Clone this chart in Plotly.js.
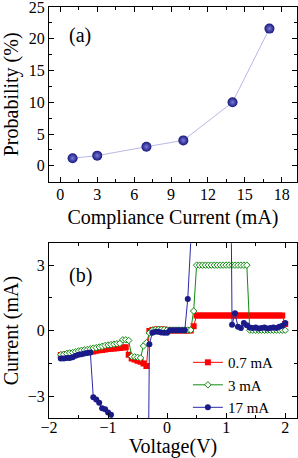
<!DOCTYPE html>
<html>
<head>
<meta charset="utf-8">
<script src="https://cdn.plot.ly/plotly-3.0.1.min.js"></script>
<style>html,body{margin:0;padding:0;background:#fff;}#chart{width:298px;height:458px;}</style>
</head>
<body>
<div id="chart"></div>
<script>
// Panel (a): probability vs compliance current
const complianceCurrent = [1, 3, 7, 10, 14, 17];
const probability = [1.2, 1.6, 3.0, 4.0, 10.0, 21.6];

// Panel (b): I-V curves
const voltage = [-1.80,-1.75,-1.70,-1.65,-1.60,-1.55,-1.50,-1.45,-1.40,-1.35,-1.30,-1.25,-1.20,-1.15,-1.10,-1.05,-1.00,-0.95,-0.90,-0.85,-0.80,-0.75,-0.70,-0.65,-0.60,-0.55,-0.50,-0.45,-0.40,-0.35,-0.30,-0.25,-0.20,-0.15,-0.10,-0.05,0.00,0.05,0.10,0.15,0.20,0.25,0.30,0.35,0.40,0.45,0.50,0.55,0.60,0.65,0.70,0.75,0.80,0.85,0.90,0.95,1.00,1.05,1.10,1.15,1.20,1.25,1.30,1.35,1.40,1.45,1.50,1.55,1.60,1.65,1.70,1.75,1.80,1.85,1.90,1.95,2.00];
const current07mA = [-1.12,-1.10,-1.08,-1.05,-1.06,-1.03,-1.00,-1.02,-1.00,-0.98,-0.97,-0.95,-0.92,-0.90,-0.88,-0.86,-0.84,-0.83,-0.82,-0.80,-0.79,-0.77,-0.76,
  -1.10,-1.28,-1.32,-1.38,-1.42,-1.50,-1.62,
  -0.02,0.03,0.05,0.05,0.05,0.05,0.02,
  0.01,0.01,0.01,0.01,0.01,0.01,0.01,0.01,0.20,
  0.70,0.70,0.70,0.70,0.70,0.70,0.70,0.70,0.70,0.70,0.70,0.70,0.70,0.70,0.70,0.70,0.70,0.70,0.70,0.70,0.70,0.70,0.70,0.70,0.70,0.70,0.70,0.70,0.70,0.70,0.30];
const current3mA = [-1.10,-1.08,-1.05,-1.02,-1.00,-0.97,-0.93,-0.90,-0.88,-0.86,-0.83,-0.80,-0.78,-0.75,-0.72,-0.68,-0.66,-0.64,-0.62,-0.60,
  -0.58,-0.42,-0.42,-0.45,-1.18,-1.20,-1.22,-1.25,-0.70,-0.55,-0.10,
  0.02,0.05,0.05,0.05,0.05,0.03,
  0.03,0.03,0.03,0.03,0.03,0.03,0.03,0.03,0.90,
  3.00,3.00,3.00,3.00,3.00,3.00,3.00,3.00,3.00,3.00,3.00,3.00,3.00,3.00,3.00,3.00,3.00,3.00,
  0.02,0.02,0.02,0.02,0.02,0.02,0.02,0.02,0.02,0.02,0.02,0.02,0.02];
const current17mA = [-1.28,-1.28,-1.25,-1.25,-1.22,-1.15,-1.10,-1.08,-1.05,-1.02,-1.00,
  -3.05,-3.15,-3.30,-3.55,-3.60,-3.75,-3.85,-4.30,-4.60,-5.20,-6.00,-7.10,-8.50,-10.2,-12.0,-13.8,-15.5,-16.6,-17.0,
  -0.62,-0.10,-0.05,-0.05,-0.08,-0.10,-0.10,
  0.02,0.02,0.02,0.02,0.02,0.02,1.45,4.60,
  17,17,17,17,17,17,17,17,17,17,17,17,17,
  0.27,0.80,0.18,0.12,0.35,0.25,0.15,0.12,0.15,0.10,0.12,0.14,0.10,0.12,0.15,0.12,0.18,0.22,0.35];
const seriesNames = ['0.7 mA', '3 mA', '17 mA'];

const FONT = '"Liberation Serif", "Times New Roman", Times, serif';

const traces = [
  {x: complianceCurrent, y: probability, xaxis: 'x', yaxis: 'y', mode: 'lines+markers', showlegend: false,
   line: {color: '#b8b8e8', width: 1},
   marker: {size: 10, color: '#18187e', gradient: {type: 'radial', color: '#7a7ad8'}, line: {width: 0}}},
  {x: voltage, y: current07mA, xaxis: 'x2', yaxis: 'y2', mode: 'lines+markers', name: seriesNames[0],
   line: {color: '#ff0000', width: 1}, marker: {symbol: 'square', size: 6, color: '#ff0000', line: {width: 0}}},
  {x: voltage, y: current3mA, xaxis: 'x2', yaxis: 'y2', mode: 'lines+markers', name: seriesNames[1],
   line: {color: '#108a10', width: 1}, marker: {symbol: 'diamond', size: 5, color: '#ffffff', line: {width: 1, color: '#108a10'}}},
  {x: voltage, y: current17mA, xaxis: 'x2', yaxis: 'y2', mode: 'lines+markers', name: seriesNames[2],
   line: {color: '#2a2aa8', width: 1}, marker: {symbol: 'circle', size: 6, color: '#1a1a88', line: {width: 0}}}
];

function axisBase() {
  return {showline: true, linecolor: '#000', linewidth: 1, mirror: 'allticks', ticks: 'inside', ticklen: 5,
          tickcolor: '#000', showgrid: false, zeroline: false, ticklabeloverflow: 'allow',
          tickfont: {family: FONT, size: 16, color: '#000'}, fixedrange: true};
}

const layout = {
  width: 298, height: 458,
  margin: {l: 49, r: 1, t: 7, b: 40},
  paper_bgcolor: '#fff', plot_bgcolor: '#fff',
  font: {family: FONT, color: '#000'},
  xaxis: Object.assign(axisBase(), {domain: [0, 1], anchor: 'y', range: [-0.92, 19.24], tick0: 0, dtick: 3,
    ticklabelstandoff: -2,
    minor: {ticks: 'inside', ticklen: 3, dtick: 1.5, tickcolor: '#000'},
    title: {text: 'Compliance Current (mA)', font: {family: FONT, size: 20}, standoff: 8}}),
  yaxis: Object.assign(axisBase(), {domain: [0.575, 1], anchor: 'x', range: [-2.5, 25], tick0: 0, dtick: 5,
    minor: {ticks: 'inside', ticklen: 3, dtick: 2.5, tickcolor: '#000'},
    title: {text: 'Probability (%)', font: {family: FONT, size: 20}, standoff: 4}}),
  xaxis2: Object.assign(axisBase(), {domain: [0, 1], anchor: 'y2', range: [-2.0, 2.2], tick0: 0, dtick: 1,
    ticklabelstandoff: -5,
    minor: {ticks: 'inside', ticklen: 3, dtick: 0.5, tickcolor: '#000'},
    title: {text: 'Voltage(V)', font: {family: FONT, size: 20}, standoff: 7}}),
  yaxis2: Object.assign(axisBase(), {domain: [0, 0.425], anchor: 'x2', range: [-4, 4], tick0: 0, dtick: 3,
    minor: {ticks: 'inside', ticklen: 3, dtick: 1.5, tickcolor: '#000'},
    title: {text: 'Current (mA)', font: {family: FONT, size: 20}, standoff: 4}}),
  legend: {x: 0.56, y: 0.175, xanchor: 'left', yanchor: 'top', bgcolor: 'rgba(0,0,0,0)',
    font: {family: FONT, size: 15, color: '#000'}, tracegroupgap: 0, itemwidth: 30},
  annotations: [
    {text: '(a)', xref: 'paper', yref: 'paper', x: (80 - 49) / 248, y: (418 - 35) / 411, xanchor: 'center', yanchor: 'middle',
     showarrow: false, font: {family: FONT, size: 20, color: '#000'}},
    {text: '(b)', xref: 'paper', yref: 'paper', x: (80 - 49) / 248, y: (418 - 275) / 411, xanchor: 'center', yanchor: 'middle',
     showarrow: false, font: {family: FONT, size: 20, color: '#000'}}
  ]
};

Plotly.newPlot('chart', traces, layout, {displayModeBar: false, staticPlot: true});
</script>
</body>
</html>
